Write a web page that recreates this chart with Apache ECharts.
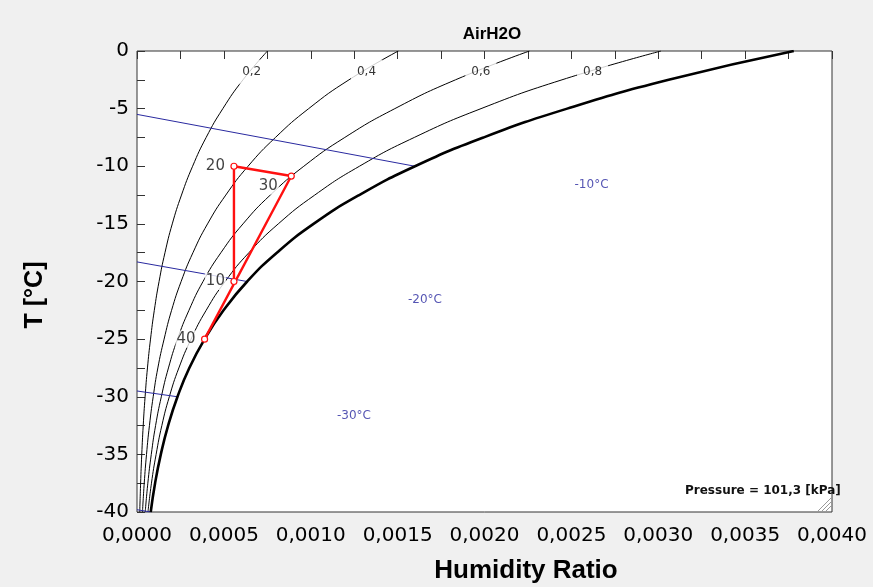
<!DOCTYPE html>
<html>
<head>
<meta charset="utf-8">
<script src="https://cdn.jsdelivr.net/npm/echarts@6/dist/echarts.min.js"></script>
<style>
html,body{margin:0;padding:0;background:#f0f0f0;}
#c{width:873px;height:587px;}
</style>
</head>
<body>
<div id="c"></div>
<script>
// Temperatures [°C] at which the curves were read
const temps = [0, -2.5, -5, -7.5, -10, -12.5, -15, -17.5, -20, -22.5, -25, -27.5, -30, -32.5, -35, -37.5, -40];
// Humidity ratio (x 1e-3)
const rh100 = [3.780, 3.060, 2.476, 1.995, 1.600, 1.279, 1.016, 0.805, 0.634, 0.498, 0.389, 0.301, 0.233, 0.179, 0.137, 0.104, 0.079];
const rh80 = [3.016, 2.446, 1.980, 1.596, 1.280, 1.023, 0.813, 0.644, 0.507, 0.398, 0.311, 0.241, 0.186, 0.143, 0.110, 0.0832, 0.0632];
const rh60 = [2.259, 1.833, 1.484, 1.196, 0.960, 0.767, 0.610, 0.483, 0.380, 0.299, 0.233, 0.181, 0.140, 0.107, 0.0822, 0.0624, 0.0474];
const rh40 = [1.504, 1.220, 0.988, 0.797, 0.639, 0.511, 0.406, 0.322, 0.254, 0.199, 0.156, 0.120, 0.0932, 0.0716, 0.0548, 0.0416, 0.0316];
const rh20 = [0.751, 0.610, 0.494, 0.398, 0.320, 0.256, 0.203, 0.161, 0.127, 0.0996, 0.0778, 0.0602, 0.0466, 0.0358, 0.0274, 0.0208, 0.0158];
// RH curve labels and their positions (W x 1e-3, T)
const rhLabels = ['0,2', '0,4', '0,6', '0,8'];
const rhLabelW = [0.660, 1.321, 1.979, 2.622];
const rhLabelT = [-1.8, -1.8, -1.8, -1.8];
// Blue constant-temperature lines: [W start, T start, W end, T end]
const tLineNames = ['-10°C', '-20°C', '-30°C', '-40°C'];
const tLineW0 = [0, 0, 0, 0];
const tLineT0 = [-5.5, -18.3, -29.5, -39.8];
const tLineW1 = [1.600, 0.634, 0.233, 0.079];
const tLineT1 = [-10, -20, -30, -40];
// Blue temperature labels
const tLabelText = ['-10°C', '-20°C', '-30°C'];
const tLabelW = [2.616, 1.657, 1.249];
const tLabelT = [-11.63, -21.6, -31.64];
// State points
const stateNames = ['10', '20', '30', '40'];
const stateW = [0.558, 0.558, 0.888, 0.389];
const stateT = [-20, -10, -10.85, -25];
// Axis ticks
const xMin = 0, xMax = 0.004, xStep = 0.0005;
const yMin = -40, yMax = 0, yStep = 5;
const pressureText = 'Pressure = 101,3 [kPa]';

const k = 0.001;
const curve = (arr) => arr.map((w, i) => [w * k, temps[i]]);

const font = 'Liberation Sans, Arial, sans-serif';
const vfont = 'DejaVu Sans, Verdana, sans-serif';
const series = [];
[rh20, rh40, rh60, rh80].forEach((arr) => {
  series.push({type: 'line', data: curve(arr), smooth: true, showSymbol: false, silent: true,
    lineStyle: {color: '#000', width: 1}, z: 2});
});
series.push({type: 'line', data: curve(rh100), smooth: true, showSymbol: false, silent: true,
  lineStyle: {color: '#000', width: 2.6}, z: 3});
tLineNames.forEach((n, i) => {
  series.push({type: 'line', data: [[tLineW0[i] * k, tLineT0[i]], [tLineW1[i] * k, tLineT1[i]]],
    showSymbol: false, silent: true, lineStyle: {color: '#2a2aa0', width: 1}, z: 2});
});
// RH labels with white background (breaking the curves)
series.push({type: 'scatter', symbolSize: 0, z: 4, silent: true,
  data: rhLabels.map((t, i) => ({value: [rhLabelW[i] * k, rhLabelT[i]], name: t})),
  label: {show: true, position: 'inside', formatter: '{b}', color: '#000', fontSize: 12, fontFamily: vfont,
    backgroundColor: '#fff', padding: [6, 6]}});
// blue temperature labels
series.push({type: 'scatter', symbolSize: 0, z: 4, silent: true,
  data: tLabelText.map((t, i) => ({value: [tLabelW[i] * k, tLabelT[i]], name: t})),
  label: {show: true, position: 'inside', formatter: '{b}', color: '#2a2aa0', fontSize: 12, fontFamily: vfont}});
// state labels (with white boxes)
series.push({type: 'scatter', symbolSize: 0, z: 5, silent: true,
  data: stateNames.map((n, i) => ({value: [stateW[i] * k, stateT[i]], name: n,
    label: n === '30' ? {position: 'inside', offset: [-23, 10]} : {position: 'left', distance: 8}})),
  label: {show: true, formatter: '{b}', color: '#111', fontSize: 15, fontFamily: vfont,
    backgroundColor: '#fff', padding: [1, 1]}});
// process path
const order = [0, 1, 2, 3];
series.push({type: 'line', z: 6, silent: true,
  data: order.map((i) => [stateW[i] * k, stateT[i]]),
  symbol: 'circle', symbolSize: 6, showSymbol: true,
  itemStyle: {color: '#fff', borderColor: '#ff1010', borderWidth: 1.2},
  lineStyle: {color: '#ff1010', width: 2.4}});

const xLab = (v) => v.toFixed(4).replace('.', ',');
const T = 4; // tick length, ticks drawn inside the frame via a negative offset
const mkAx = (extra) => Object.assign({
  type: 'value',
  offset: -T,
  axisLine: {show: false},
  axisTick: {show: true, inside: false, length: T, lineStyle: {color: '#333'}},
  minorTick: {show: true, splitNumber: 2, length: T, lineStyle: {color: '#333'}},
  splitLine: {show: false}
}, extra);
const option = {
  backgroundColor: '#f0f0f0',
  animation: false,
  grid: {left: 137, right: 41, top: 51, bottom: 75, show: true, backgroundColor: '#fff',
    borderColor: '#333', borderWidth: 1},
  xAxis: [
    mkAx({min: xMin, max: xMax, interval: xStep, position: 'bottom',
      axisLabel: {formatter: xLab, fontSize: 20, color: '#000', fontFamily: vfont, margin: 14 + T}}),
    mkAx({min: xMin, max: xMax, interval: xStep, position: 'top', axisLabel: {show: false}})
  ],
  yAxis: [
    mkAx({min: yMin, max: yMax, interval: yStep, position: 'left',
      axisLabel: {fontSize: 20, color: '#000', fontFamily: vfont, margin: 8 + T}}),
    mkAx({min: yMin, max: yMax, interval: yStep, position: 'right', axisLabel: {show: false}})
  ],
  series: series,
  graphic: [
    {type: 'text', x: 492, y: 34, style: {text: 'AirH2O', fill: '#000',
      font: 'bold 17px ' + font, textAlign: 'center', textVerticalAlign: 'middle'}},
    {type: 'text', x: 526, y: 571, style: {text: 'Humidity Ratio',
      fill: '#000', font: 'bold 26px ' + font, textAlign: 'center', textVerticalAlign: 'middle'}},
    {type: 'text', x: 35, y: 295, rotation: Math.PI / 2, style: {text: 'T [°C]', fill: '#000',
      font: 'bold 25px ' + font, textAlign: 'center', textVerticalAlign: 'middle'}},
    {type: 'text', x: 685, y: 491, style: {text: pressureText, fill: '#111',
      font: 'bold 12px ' + vfont, textAlign: 'left', textVerticalAlign: 'middle'}},
    {type: 'group', children: [
      {type: 'line', shape: {x1: 818, y1: 511, x2: 831, y2: 498}, style: {stroke: '#999', lineWidth: 1}},
      {type: 'line', shape: {x1: 822, y1: 511, x2: 831, y2: 502}, style: {stroke: '#999', lineWidth: 1}},
      {type: 'line', shape: {x1: 826, y1: 511, x2: 831, y2: 506}, style: {stroke: '#999', lineWidth: 1}}
    ]}
  ]
};
const chart = echarts.init(document.getElementById('c'), null, {renderer: 'canvas'});
chart.setOption(option);
</script>
</body>
</html>
